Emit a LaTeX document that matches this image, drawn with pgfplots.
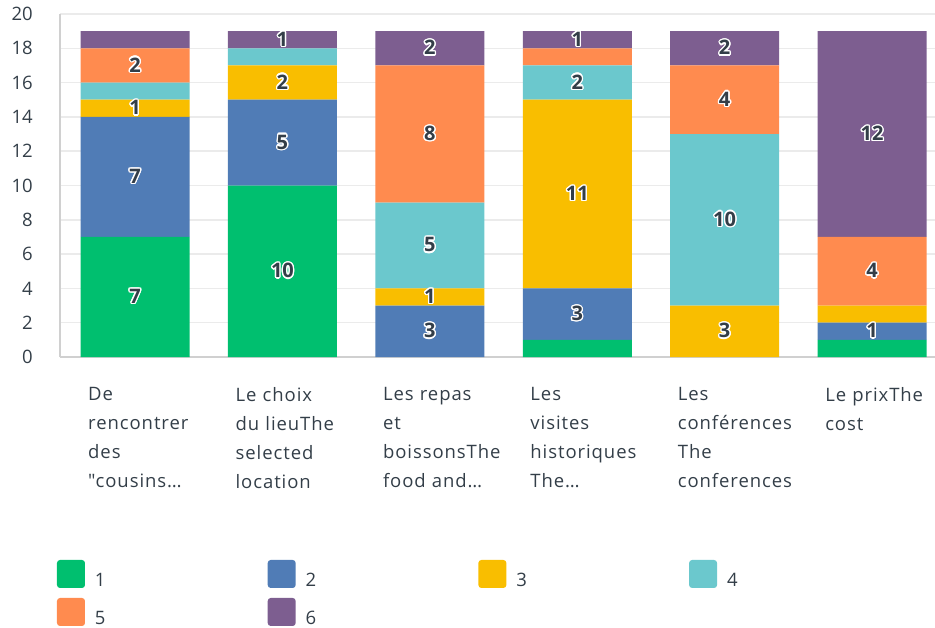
\documentclass[border=0pt]{standalone}
\usepackage{fontspec}
\setmainfont{Open Sans}
\newfontfamily\nolig{Open Sans}[Ligatures=TeXOff]
\usepackage{pgfplots}
\pgfplotsset{compat=1.18}
\usepackage{pgfplotstable}
\usepackage{contour}
\contourlength{1.3pt}
\definecolor{c1}{HTML}{00BF6F}
\definecolor{c2}{HTML}{507CB6}
\definecolor{c3}{HTML}{F9BE00}
\definecolor{c4}{HTML}{6BC8CD}
\definecolor{c5}{HTML}{FF8B4F}
\definecolor{c6}{HTML}{7D5E90}
\definecolor{txt}{HTML}{333E48}
\definecolor{gridc}{HTML}{EBEBEB}
\definecolor{axisc}{HTML}{D0D0D0}

\pgfplotstableread{
x s1 s2 s3 s4 s5 s6
0 7 7 1 1 2 1
1 10 5 2 1 0 1
2 0 3 1 5 8 2
3 1 3 11 2 1 1
4 0 0 3 10 4 2
5 1 1 1 0 4 12
}\datatable

\pgfplotstableread{
x y lab
0 3.5 7
0 10.5 7
0 14.5 1
0 17 2
1 5 10
1 12.5 5
1 16 2
1 18.5 1
2 1.5 3
2 3.5 1
2 6.5 5
2 13 8
2 18 2
3 2.5 3
3 9.5 11
3 16 2
3 18.5 1
4 1.5 3
4 8 10
4 15 4
4 18 2
5 1.5 1
5 5 4
5 13 12
}\labtable

\pgfplotsset{
  sqlegend/.style={legend image code/.code={\fill[##1, draw=none, rounded corners=3pt] (0pt,-7.5pt) rectangle (28pt,20.5pt);}},
  common/.style={
    scale only axis, width=875pt, height=343pt,
    xmin=-0.509, xmax=5.427, ymin=0, ymax=20,
    at={(60pt,270pt)}, anchor=south west,
  }
}

\begin{document}
\begin{tikzpicture}[x=1pt,y=1pt]
\useasboundingbox (0,0) rectangle (935,627);
\begin{axis}[
  common,
  ybar stacked, bar width=109pt,
  axis x line*=bottom, axis y line*=left,
  axis line style={draw=axisc, line width=1.2pt},
  ymajorgrids, grid style={draw=gridc, line width=1.5pt},
  major tick length=0pt,
  ytick={0,2,...,20},
  /pgf/number format/assume math mode=true,
  yticklabel style={font=\fontsize{18.5}{22}\selectfont, text=txt, anchor=east, inner sep=0pt, xshift=-27pt},
  xtick={0,...,5},
  xticklabels={
    {De\\rencontrer\\des\\{\nolig\addfontfeatures{LetterSpace=5}"}cousins…},
    {Le choix\\du lieuThe\\selected\\location},
    {Les repas\\et\\boissonsThe\\food and…},
    {Les\\visites\\historiques\\The…},
    {Les\\conférences\\The\\conferences},
    {Le prixThe\\cost}},
  xticklabel style={anchor=north west, xshift=-47pt, yshift=-30pt, align=left, text width=150pt, inner sep=0pt,
    font=\fontsize{18.5}{29}\selectfont\addfontfeatures{LetterSpace=5}, text=txt},
  legend columns=4,
  legend style={at={(-0.00343,-0.5918)}, anchor=north west, draw=none, fill=none, inner sep=0pt, outer sep=0pt,
    row sep=10pt, font=\fontsize{18.5}{22}\selectfont, text=txt,
    nodes={inner sep=0pt, text width=20pt, align=left},
    /tikz/every odd column/.style={column sep=10pt},
    /tikz/every even column/.style={column sep=152.7pt}},
]
\addplot[fill=c1, draw=none, sqlegend] table[x=x,y=s1]{\datatable};
\addlegendentry{1}
\addplot[fill=c2, draw=none, sqlegend] table[x=x,y=s2]{\datatable};
\addlegendentry{2}
\addplot[fill=c3, draw=none, sqlegend] table[x=x,y=s3]{\datatable};
\addlegendentry{3}
\addplot[fill=c4, draw=none, sqlegend] table[x=x,y=s4]{\datatable};
\addlegendentry{4}
\addplot[fill=c5, draw=none, sqlegend] table[x=x,y=s5]{\datatable};
\addlegendentry{5}
\addplot[fill=c6, draw=none, sqlegend] table[x=x,y=s6]{\datatable};
\addlegendentry{6}
\end{axis}
\begin{axis}[common, hide axis, clip=false]
\addplot[only marks, mark=none, point meta=explicit symbolic,
  nodes near coords={\contour{white}{\textbf{\pgfplotspointmeta}}},
  every node near coord/.append style={anchor=center, font=\fontsize{20}{22}\selectfont, text=txt}]
  table[x=x,y=y,meta=lab]{\labtable};
\end{axis}
\end{tikzpicture}
\end{document}
